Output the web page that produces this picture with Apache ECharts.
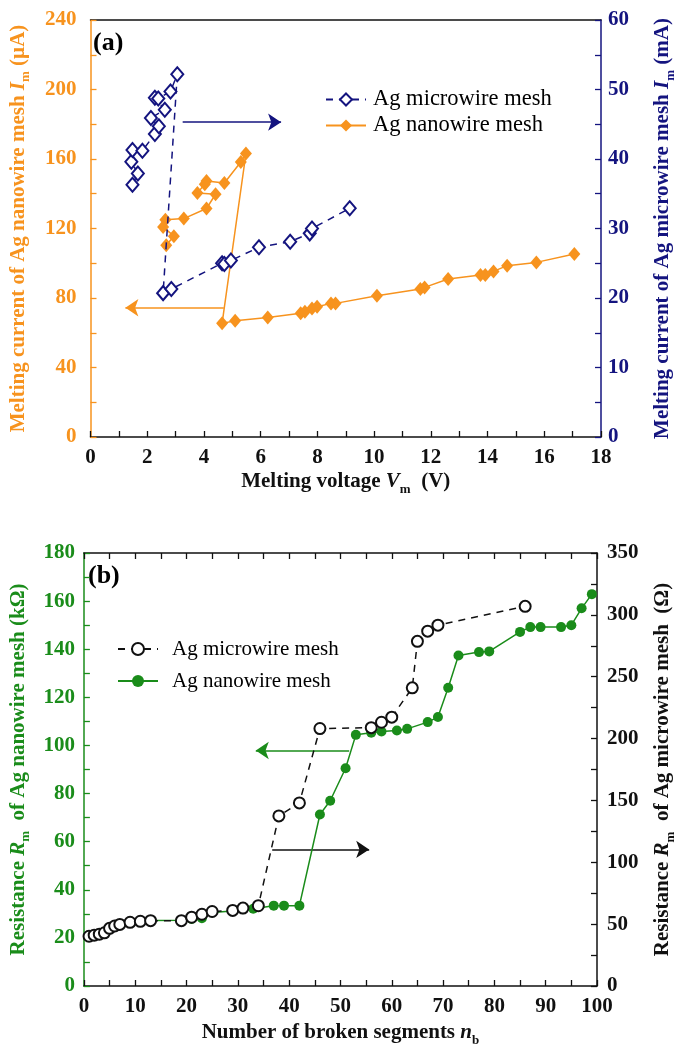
<!DOCTYPE html>
<html><head><meta charset="utf-8">
<script src="https://cdn.jsdelivr.net/npm/echarts@6/dist/echarts.min.js"></script>
<style>html,body{margin:0;padding:0;background:#fff}#c{width:685px;height:1048px}</style>
</head><body><div id="c"></div><script>
// ---------- Panel (a) data ----------
const microA_V  = [1.48,1.67,1.44,1.48,1.83,2.27,2.41,2.13,2.62,2.27,2.39,2.82,3.06,2.56,2.85,4.64,4.72,4.95,5.94,7.04,7.73,7.81,9.14];
const microA_mA = [36.3,37.9,39.6,41.3,41.2,43.6,44.7,45.9,47.1,48.8,48.7,49.7,52.2,20.7,21.3,25.0,24.9,25.4,27.3,28.1,29.3,30.0,32.9];
const nanoA_V   = [2.67,2.94,2.56,2.64,3.29,4.09,4.41,3.77,4.03,4.09,4.72,5.30,5.48,4.64,5.10,6.25,7.41,7.56,7.81,7.99,8.48,8.64,10.1,11.63,11.78,12.61,13.75,13.92,14.21,14.69,15.72,17.06];
const nanoA_uA  = [110.4,115.6,120.9,125.1,125.7,131.5,139.7,140.5,145.5,147.4,146.2,158.3,163.1,65.4,66.9,68.8,71.2,72.1,74.0,75.0,76.9,76.9,81.3,85.2,86.1,90.9,93.2,93.2,95.3,98.6,100.5,105.3];
const arrowA_micro = [[3.25,45.3],[6.72,45.3]];   // (V, mA)
const arrowA_nano  = [[4.70,74.4],[1.23,74.4]];   // (V, µA)

// ---------- Panel (b) data ----------
const microB_n   = [1,2,3,4,5,6,7,9,11,13,19,21,23,25,29,31,34,38,42,46,56,58,60,64,65,67,69,86];
const microB_ohm = [40.2,41.1,41.9,43.0,46.6,48.5,49.8,51.5,52.3,52.8,52.8,55.6,58.0,60.2,61.1,63.0,64.9,137.5,148.0,208.1,208.8,213.2,217.3,241.0,278.6,286.8,291.7,306.9];
const nanoB_n    = [1,2,3,4,5,6,7,9,11,13,19,21,23,25,29,31,33,37,39,42,46,48,51,53,56,58,61,63,67,69,71,73,77,79,85,87,89,93,95,97,99];
const nanoB_k    = [20.5,21.0,21.3,22.0,23.6,24.6,25.4,26.3,26.8,27.2,27.3,27.9,28.2,30.6,31.2,31.9,32.1,33.4,33.4,33.4,71.3,77.0,90.5,104.4,105.3,105.8,106.2,106.9,109.7,111.8,124.0,137.4,138.8,139.1,147.2,149.2,149.2,149.2,150.0,157.0,162.9];
const arrowB_nano  = [[51.7,97.9],[33.5,97.9]];   // (n, kΩ)
const arrowB_micro = [[36.7,110.4],[55.6,110.4]]; // (n, Ω)

const seriesNames = ['Ag microwire mesh','Ag nanowire mesh'];
const keysA = ['aMicro','aNano'], keysB = ['bMicro','bNano'];
const labelOf = {aMicro:seriesNames[0],aNano:seriesNames[1],bMicro:seriesNames[0],bNano:seriesNames[1]};

const ORANGE='#F7931E', NAVY='#14147F', GREEN='#1A8C1A', BLACK='#111';
const FF='Liberation Serif';
const zip=(a,b)=>a.map((v,i)=>[v,b[i]]);

function rich(color){
  return {
    t:{color,fontFamily:FF,fontWeight:'bold',fontSize:21,lineHeight:28,verticalAlign:'middle'},
    i:{color,fontFamily:FF,fontWeight:'bold',fontStyle:'italic',fontSize:21,lineHeight:28,verticalAlign:'middle'},
    s:{color,fontFamily:FF,fontWeight:'bold',fontSize:13,lineHeight:13,verticalAlign:'bottom'}
  };
}
function lbl(color,step,margin){
  return {show:true,color,fontFamily:FF,fontWeight:'bold',fontSize:21,margin,
    formatter:v=>(Math.abs(v/step-Math.round(v/step))<1e-6?String(v):'')};
}
function yAx(o){
  return Object.assign({type:'value',splitLine:{show:false},
    axisTick:{show:true,inside:true,length:6,lineStyle:{color:o.color,width:1.3}},
    axisLine:{show:true,onZero:false,lineStyle:{color:o.color,width:1.5}},
    axisLabel:lbl(o.color,o.step,o.margin),
    nameLocation:'middle',nameRotate:90,
    nameTextStyle:{color:o.color,fontFamily:FF,fontWeight:'bold',fontSize:21,rich:rich(o.color)}
  },o.extra);
}
function xAx(o){
  return Object.assign({type:'value',splitLine:{show:false},
    axisTick:{show:true,inside:true,length:6,lineStyle:{color:BLACK,width:1.3}},
    axisLine:{show:true,onZero:false,lineStyle:{color:BLACK,width:1.5}},
    axisLabel:lbl(BLACK,o.step,o.margin),
    nameLocation:'middle',
    nameTextStyle:{color:BLACK,fontFamily:FF,fontWeight:'bold',fontSize:21,rich:rich(BLACK)}
  },o.extra);
}

const chart=echarts.init(document.getElementById('c'));
chart.setOption({
  animation:false,
  backgroundColor:'#fff',
  grid:[
    {left:88,top:20,width:520,height:417},
    {left:80,top:553,width:521,height:437}
  ],
  xAxis:[
    xAx({step:2,margin:10,extra:{gridIndex:0,min:0,max:18,interval:1,position:'bottom',
      name:'{t|Melting voltage }{i|V}{s|m}{t|  (V)}',nameGap:31}}),
    {gridIndex:0,type:'value',min:0,max:18,position:'top',axisLine:{show:true,onZero:false,lineStyle:{color:BLACK,width:1.5}},axisTick:{show:false},axisLabel:{show:false},splitLine:{show:false}},
    xAx({step:10,margin:10,extra:{gridIndex:1,min:0,max:100,interval:5,position:'bottom',
      name:'{t|Number of broken segments }{i|n}{s|b}',nameGap:33}}),
    {gridIndex:1,type:'value',min:0,max:100,interval:5,position:'top',axisLine:{show:true,onZero:false,lineStyle:{color:BLACK,width:1.5}},axisTick:{show:true,inside:true,length:6,lineStyle:{color:BLACK,width:1.3}},axisLabel:{show:false},splitLine:{show:false}}
  ],
  yAxis:[
    yAx({color:ORANGE,step:40,margin:14,extra:{gridIndex:0,min:0,max:240,interval:20,position:'left',
      name:'{t|Melting current of Ag nanowire mesh }{i|I}{s|m}{t| (µA)}',nameGap:58}}),
    yAx({color:NAVY,step:10,margin:7,extra:{gridIndex:0,min:0,max:60,interval:5,position:'right',
      name:'{t|Melting current of Ag microwire mesh }{i|I}{s|m}{t| (mA)}',nameGap:48}}),
    yAx({color:GREEN,step:20,margin:9,extra:{gridIndex:1,min:0,max:180,interval:10,position:'left',
      name:'{t|Resistance }{i|R}{s|m}{t|  of Ag nanowire mesh (kΩ)}',nameGap:49}}),
    yAx({color:BLACK,step:50,margin:10,extra:{gridIndex:1,min:0,max:350,interval:25,position:'right',
      name:'{t|Resistance }{i|R}{s|m}{t|  of Ag microwire mesh  (Ω)}',nameGap:52}})
  ],
  legend:[
    {orient:'vertical',left:320,top:83,itemWidth:40,itemHeight:15,itemGap:3,
     data:keysA, formatter:n=>labelOf[n],
     textStyle:{fontFamily:FF,fontSize:22.5,color:'#000',lineHeight:22,padding:[0,0,0,2]},
     selectedMode:false},
    {orient:'vertical',left:112,top:633,itemWidth:40,itemHeight:15,itemGap:10,
     data:keysB, formatter:n=>labelOf[n],
     textStyle:{fontFamily:FF,fontSize:21,color:'#000',lineHeight:22,padding:[0,0,0,9]},
     selectedMode:false}
  ],
  series:[
    {name:'aNano',type:'line',xAxisIndex:0,yAxisIndex:0,data:zip(nanoA_V,nanoA_uA),
     symbol:'diamond',symbolSize:[12,14],itemStyle:{color:ORANGE},
     lineStyle:{color:ORANGE,width:1.5},z:3},
    {name:'aMicro',type:'line',xAxisIndex:0,yAxisIndex:1,data:zip(microA_V,microA_mA),
     symbol:'diamond',symbolSize:[12,14],itemStyle:{color:'#fff',borderColor:NAVY,borderWidth:2},
     lineStyle:{color:NAVY,width:1.5,type:[7,6]},z:4},
    {type:'lines',coordinateSystem:'cartesian2d',xAxisIndex:0,yAxisIndex:1,
     symbol:['none','arrow'],symbolSize:[9,13],
     lineStyle:{color:NAVY,width:1.5,opacity:1},itemStyle:{color:NAVY},
     data:[{coords:arrowA_micro}]},
    {type:'lines',coordinateSystem:'cartesian2d',xAxisIndex:0,yAxisIndex:0,
     symbol:['none','arrow'],symbolSize:[9,13],
     lineStyle:{color:ORANGE,width:1.5,opacity:1},itemStyle:{color:ORANGE},
     data:[{coords:arrowA_nano}]},

    {name:'bNano',type:'line',xAxisIndex:2,yAxisIndex:2,data:zip(nanoB_n,nanoB_k),
     symbol:'circle',symbolSize:10,itemStyle:{color:GREEN},
     lineStyle:{color:GREEN,width:1.5},z:3},
    {name:'bMicro',type:'line',xAxisIndex:2,yAxisIndex:3,data:zip(microB_n,microB_ohm),
     symbol:'circle',symbolSize:11,itemStyle:{color:'#fff',borderColor:BLACK,borderWidth:2},
     lineStyle:{color:BLACK,width:1.5,type:[7,6]},z:4},
    {type:'lines',coordinateSystem:'cartesian2d',xAxisIndex:2,yAxisIndex:2,
     symbol:['none','arrow'],symbolSize:[9,13],
     lineStyle:{color:GREEN,width:1.5,opacity:1},itemStyle:{color:GREEN},
     data:[{coords:arrowB_nano}]},
    {type:'lines',coordinateSystem:'cartesian2d',xAxisIndex:2,yAxisIndex:3,
     symbol:['none','arrow'],symbolSize:[9,13],
     lineStyle:{color:BLACK,width:1.5,opacity:1},itemStyle:{color:BLACK},
     data:[{coords:arrowB_micro}]}
  ],
  graphic:[
    {type:'text',left:93,top:30,style:{text:'(a)',font:'bold 26px "Liberation Serif"',fill:'#000'}},
    {type:'text',left:88,top:563,style:{text:'(b)',font:'bold 26px "Liberation Serif"',fill:'#000'}}
  ]
});
</script></body></html>
